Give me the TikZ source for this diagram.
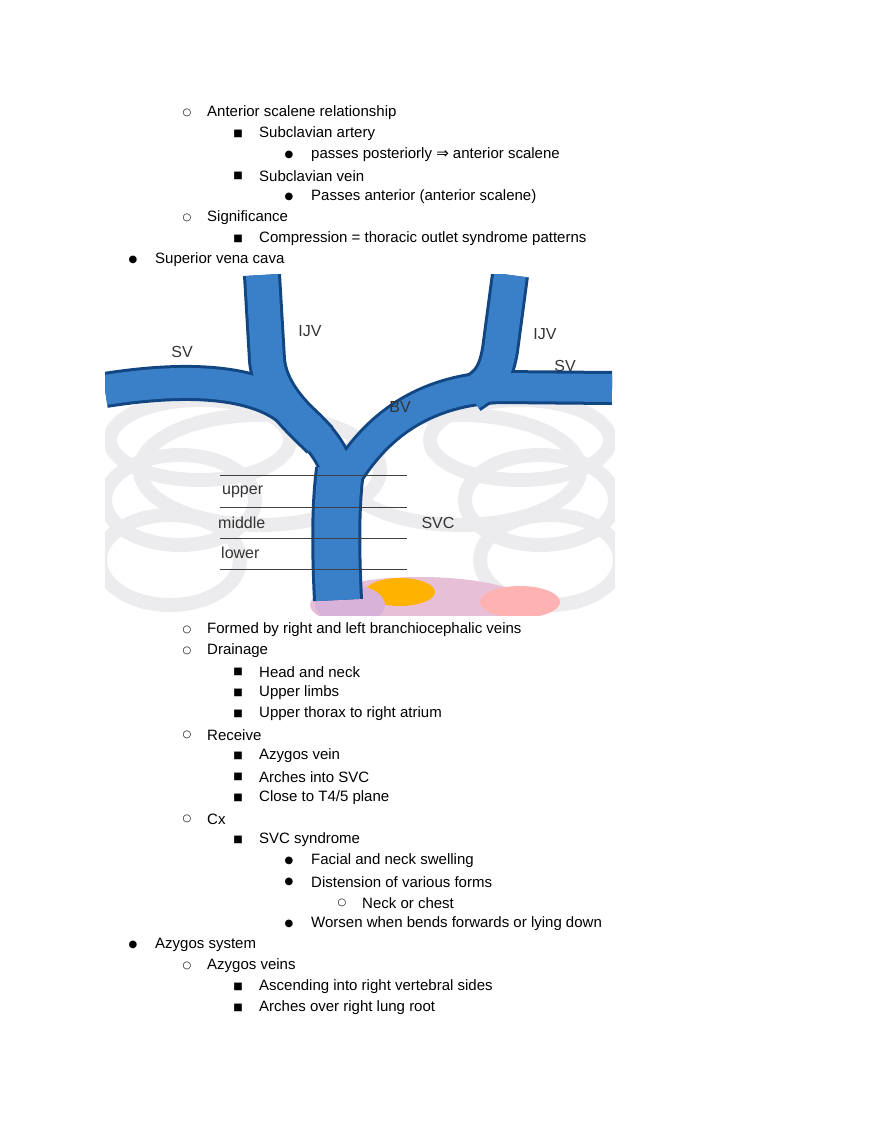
\documentclass[tikz,border=0pt]{standalone}
\usepackage{fontspec}
\setmainfont{Liberation Sans}
\newfontfamily\symfont{DejaVu Sans}
\usepackage{tikz}

%% colours of the vein picture
\definecolor{veinblue}{RGB}{58,128,200}
\definecolor{veindark}{RGB}{18,70,130}
\definecolor{ribgray}{RGB}{236,236,238}

\tikzset{
  txt/.style={anchor=west, inner sep=0pt, font=\fontsize{15}{18}\selectfont},
  lbl/.style={inner sep=0pt, font=\fontsize{16}{18}\selectfont, text=black!80},
  bul/.style={anchor=center, inner sep=0pt, font=\symfont\fontsize{10}{12}\selectfont},
  rib/.style={draw=ribgray, line width=14pt},
  veinout/.style={draw=veindark, line width=#1+6pt, line cap=butt, line join=round},
  veinin/.style={draw=veinblue, line width=#1, line cap=butt, line join=round},
  level/.style={draw=black!75, line width=0.9pt}
}

% level -> bullet x, text x
\newcommand{\bx}[1]{\ifcase#1\or133\or187\or238\or289\or342\fi}
\newcommand{\tx}[1]{\ifcase#1\or155\or207\or259\or311\or362\fi}
\newcommand{\bsym}[1]{\ifcase#1\or ●\or ○\or ■\or ●\or ○\fi}

\begin{document}
\begin{tikzpicture}[x=1pt, y=-1pt]
\useasboundingbox (0,0) rectangle (880,1139);

%% Define the list items: level / y / text
\foreach \lv/\yy/\tt [count=\i] in {
  2/113/{Anterior scalene relationship},
  3/134/{Subclavian artery},
  4/155/{passes posteriorly {\symfont ⇒} anterior scalene},
  3/176/{Subclavian vein},
  4/197/{Passes anterior (anterior scalene)},
  2/218/{Significance},
  3/239/{Compression = thoracic outlet syndrome patterns},
  1/260/{Superior vena cava},
  2/630/{Formed by right and left branchiocephalic veins},
  2/651/{Drainage},
  3/672/{Head and neck},
  3/693/{Upper limbs},
  3/714/{Upper thorax to right atrium},
  2/735/{Receive},
  3/756/{Azygos vein},
  3/777/{Arches into SVC},
  3/798/{Close to T4/5 plane},
  2/819/{Cx},
  3/840/{SVC syndrome},
  4/861/{Facial and neck swelling},
  4/882/{Distension of various forms},
  5/903/{Neck or chest},
  4/924/{Worsen when bends forwards or lying down},
  1/945/{Azygos system},
  2/966/{Azygos veins},
  3/987/{Ascending into right vertebral sides},
  3/1008/{Arches over right lung root}}
{
  \node [bul] (b\i) at (\bx{\lv}, \yy) {\bsym{\lv}};
  \node [txt] (t\i) at (\tx{\lv}, \yy) {\tt};
}

%% The picture
\begin{scope}
\clip (105,275) rectangle (615,615);
% ribs behind
\foreach \cx/\cy/\rx/\ry in {200/440/90/40, 180/500/75/45, 170/560/70/45,
                             520/440/90/40, 540/500/75/45, 550/560/70/45,
                             260/470/120/55, 460/470/120/55}
  \draw [rib] (\cx, \cy) ellipse ({\rx} and {\ry});
% heart at the bottom
\fill [red!25!violet!25] (420,605) ellipse (110 and 28);
\fill [orange!60!yellow] (400,592) ellipse (35 and 14);
\fill [violet!30] (350,605) ellipse (35 and 20);
\fill [red!30] (520,602) ellipse (40 and 16);

% veins: outline first, then the blue
\foreach \st in {veinout, veinin} {
  \draw [\st=30pt] (105,390) .. controls (200,375) and (260,385) .. (290,410)
        .. controls (320,435) and (335,455) .. (340,480);
  \draw [\st=32pt] (262,275) -- (267,360) .. controls (270,395) and (300,420) .. (320,440);
  \draw [\st=32pt] (510,275) -- (500,350) .. controls (495,380) and (485,385) .. (470,395);
  \draw [\st=28pt] (612,388) -- (500,387) .. controls (430,390) and (380,420) .. (345,478);
  \draw [\st=44pt] (340,470) .. controls (336,500) and (335,540) .. (338,600);
}
\end{scope}

%% level lines
\coordinate (Lw) at (220,0);
\coordinate (Le) at (407,0);
\foreach \yy [count=\j] in {475, 507, 538, 569}
  \draw [level] (220,\yy) coordinate (l\j) -- (407,\yy) coordinate (r\j);

%% labels
\node [lbl, anchor=west] (up) at (222,492) {upper};
\node [lbl, anchor=west] (mid) at (218,523) {middle};
\node [lbl, anchor=west] (low) at (221,553) {lower};
\node [lbl] (ijvl) at (310,331) {IJV};
\node [lbl] (svl) at (182,352) {SV};
\node [lbl] (bv) at (400,407) {BV};
\node [lbl] (ijvr) at (545,334) {IJV};
\node [lbl] (svr) at (565,366) {SV};
\node [lbl] (svc) at (438,523) {SVC};

\end{tikzpicture}
\end{document}
